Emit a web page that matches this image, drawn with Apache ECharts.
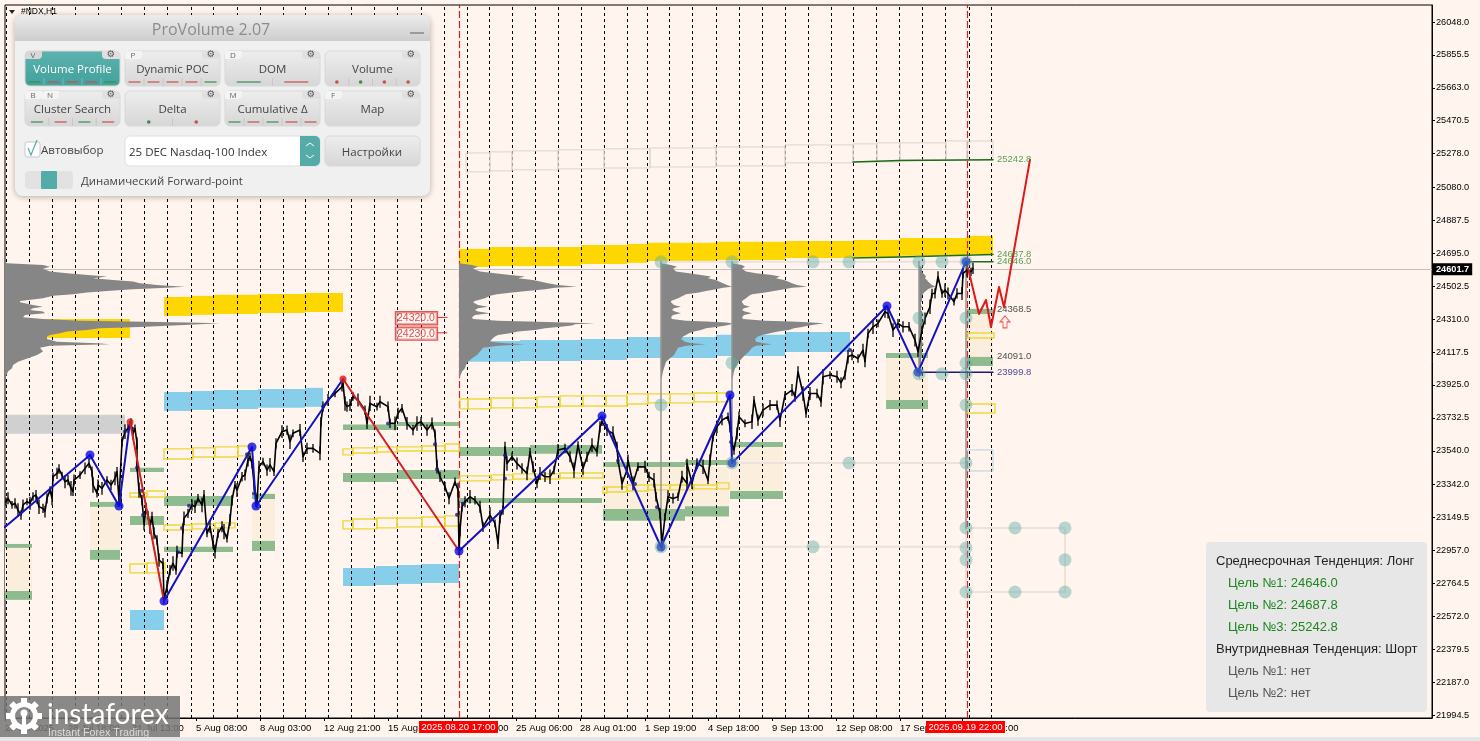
<!DOCTYPE html>
<html><head><meta charset="utf-8">
<style>html,body{margin:0;padding:0;background:#fff5ee;overflow:hidden}#c{width:1480px;height:741px}</style>
<script src="https://cdn.jsdelivr.net/npm/echarts@6/dist/echarts.min.js"></script>
</head><body><div id="c"></div>
<script>
// ---- axes
const yTicks=[26048.0,25855.5,25663.0,25470.5,25278.0,25080.0,24887.5,24695.0,24502.5,24310.0,24117.5,23925.0,23732.5,23540.0,23342.0,23149.5,22957.0,22764.5,22572.0,22379.5,22187.0,21994.5];
const xTickBars=[0,63,127,191,255,319,383,447,511,575,640,703,767,831,895,957];
const xTickLabels=['25 Jul 2025','28 Jul 18:00','31 Jul 13:00','5 Aug 08:00','8 Aug 03:00','12 Aug 21:00','15 Aug 15:00','20 Aug 10:00','25 Aug 06:00','28 Aug 01:00','1 Sep 19:00','4 Sep 18:00','9 Sep 13:00','12 Sep 08:00','17 Sep 03:00','19 Sep 22:00'];
const daySeps=[1,24,47,70,93,116,139,162,186,208,232,255,278,300,323,346,369,392,416,439,462,484,507,530,553,576,599,622,642,664,687,711,734,757,780,803,826,848,871,894,917,940,964,986];
const eventBars=[454,962];
const bidPrice=24601.7;
// ---- price path
const priceBars=[1,3,7,10,13,16,18,22,25,28,31,32,34,38,40,42,45,47,48,52,54,57,60,63,66,68,69,75,80,84,87,88,92,93,97,102,106,110,112,114,116,117,120,123,126,128,130,132,132,134,137,139,141,143,145,147,149,152,154,158,159,162,165,168,171,172,177,178,179,183,187,190,193,197,199,202,205,208,210,213,217,219,222,225,227,230,232,237,240,243,245,247,249,252,254,258,262,265,269,271,277,282,285,288,295,298,302,308,315,316,318,323,330,337,338,340,342,345,348,353,360,362,365,372,375,383,385,390,393,397,402,408,412,416,422,427,430,432,435,440,444,450,453,454,455,457,460,465,470,475,478,485,490,493,495,498,500,502,507,512,517,522,525,528,532,535,540,545,549,553,560,565,569,573,578,582,587,592,595,597,602,608,612,613,617,622,623,628,633,640,644,649,651,655,657,660,663,668,673,677,682,682,687,692,698,703,705,708,712,717,723,725,727,729,732,734,740,747,749,753,758,765,772,775,780,787,790,793,798,801,805,812,816,818,825,832,836,840,843,847,853,858,860,863,868,873,880,883,888,893,898,904,910,913,917,920,925,927,930,933,937,940,943,949,952,957,958,962,966,968];
const priceVals=[23242,23262,23223,23233,23193,23164,23223,23242,23233,23272,23281,23252,23213,23203,23184,23262,23310,23262,23388,23408,23433,23398,23359,23369,23320,23301,23369,23398,23437,23467,23418,23340,23291,23340,23320,23369,23340,23379,23418,23252,23252,23593,23652,23671,23700,23642,23671,23584,23447,23310,23252,23115,23203,23164,23096,23154,23057,23018,22901,22881,22667,22745,22842,22881,22842,22950,22940,23086,23145,23174,23223,23213,23262,23223,23281,23057,23096,22999,22950,23057,23096,23067,23028,23135,23252,23340,23310,23388,23398,23486,23505,23466,23349,23233,23447,23476,23427,23457,23418,23583,23652,23661,23593,23642,23661,23505,23554,23554,23525,23710,23798,23837,23875,23914,23934,23817,23798,23808,23857,23837,23778,23700,23817,23798,23827,23798,23700,23700,23759,23788,23700,23661,23700,23710,23661,23700,23642,23447,23388,23330,23262,23359,23310,22960,23076,23212,23242,23271,23251,23212,23095,23164,23115,22998,23154,23193,23563,23466,23505,23466,23437,23407,23534,23446,23349,23407,23388,23388,23427,23544,23554,23505,23427,23573,23437,23505,23573,23534,23680,23710,23661,23641,23563,23485,23349,23427,23485,23349,23446,23446,23388,23368,23271,23173,22998,23154,23271,23261,23271,23388,23349,23466,23349,23466,23446,23368,23485,23622,23680,23719,23739,23680,23583,23544,23641,23739,23700,23710,23836,23719,23778,23807,23807,23719,23866,23895,23856,24002,23875,23758,23875,23875,23827,23973,23983,23973,23938,23983,24090,24100,24080,24129,24061,24226,24265,24285,24353,24343,24246,24285,24265,24265,24187,24119,24246,24314,24382,24460,24460,24558,24460,24480,24460,24412,24460,24460,24577,24597,24587,24607];
const priceSpans=[50,70,45,60,80,55,65,40,75,50,60,45,85,55,70,60,45,80,50,65,55,40,75,60,85,50,65,45,70,55,60,90,50,65,75,45,60,80,55,40,70,60,85,50,60,75,45,70,55,90,60,80,65,50,85,60,70,55,80,65,50,75,60,85,55,70,45,60,80,55,65,75,50,85,60,45,70,60,80,55,65,90,50,70,60,45,80,55,65,75,50,60,85,55,70,45,65,80,50,60,75,55,85,45,70,60,65,50,80,55,60,70,45,55,40,85,60,70,50,75,55,65,90,45,70,60,55,80,65,50,75,60,85,55,65,70,45,80,60,55,70,50,85,60,75,55,65,80,50,70,60,90,45,65,75,55,60,85,50,70,60,80,45,65,55,75,60,85,50,70,55,65,90,45,75,60,80,55,65,50,70,85,60,45,75,55,65,80,50,70,60,85,55,65,90,45,75,60,50,70,80,55,65,60,85,45,70,55,75,60,50,65,80,55,70,60,45,85,50,65,75,60,55,80,45,70,60,65,85,50,75,55,60,90,45,70,65,55,80,60,50,75,65,55,85,45,70,60,80,50,65,55,75,60,45,70,85,55,60,65,50,80,70,45,60,75,55,85,50,65,60,70,45,80,55,65];
// ---- zigzag
const blueA=[[0,23094],[85,23515],[114,23217],[125,23708]];
const blueB=[[159,22661],[247,23562],[251,23217],[338,23960]];
const blueC=[[454,22954],[597,23743],[656,22977],[725,23866],[727,23468],[882,24387],[913,23999.8],[961,24646]];
const redA=[[125,23708],[159,22661]];
const redB=[[338,23960],[454,22954]];
const forecast=[[963,24609],[974,24340],[981,24422],[986,24264],[994,24498],[999,24381],[1025,25242.8]];
const blueNodes=[[85,23515],[114,23217],[247,23562],[251,23217],[454,22954],[597,23743],[656,22977],[725,23866],[727,23468],[882,24387],[913,23999.8],[961,24646],[159,22661]];
const redNodes=[[125,23708],[338,23960]];
const miniDots=[[120,23652],[132,23442],[136,23306],[138,23165],[177,23088],[173,22946],[184,23219],[242,23519],[249,23291],[318,23798],[383,23700],[430,23578],[432,23432],[452,23166],[458,23232],[500,23514],[500,23378],[613,23482],[630,23345],[652,23209],[726,23591],[845,24129]];
// ---- zones: [barFrom, barTo, priceTop, priceBottom]
const yellowBands=[[454,485,24721,24615],[485,576,24732,24621],[576,622,24744,24633],[622,642,24750,24639],[642,711,24756,24650],[711,780,24762,24656],[780,848,24767,24668],[848,895,24773,24674],[895,962,24785,24680],[962,988,24797,24691],[159,186,24440,24329],[186,209,24446,24335],[209,253,24452,24340],[253,300,24457,24346],[300,338,24463,24352],[40,125,24311,24200]];
const blueBands=[[454,515,24182,24060],[515,576,24188,24065],[576,622,24194,24071],[622,711,24206,24083],[711,780,24218,24095],[780,845,24235,24118],[159,186,23884,23773],[186,209,23890,23779],[209,253,23896,23785],[253,300,23902,23791],[300,318,23908,23797],[338,371,22855,22749],[371,392,22866,22755],[392,416,22872,22761],[416,454,22878,22767],[125,159,22609,22492]];
const greyBands=[[1,120,23750,23639]];
const beigeZones=[[0,27,22972,22720],[85,115,23212,22960],[247,270,23258,23013],[598,724,23445,23180],[725,778,23562,23305],[881,923,24083,23837],[962,988,24340,24089]];
const greenBands=[[0,27,22995,22972],[0,27,22720,22668],[85,115,23241,23212],[85,115,22960,22902],[125,159,23440,23416],[125,159,23159,23106],[159,228,23276,23217],[159,228,22978,22948],[247,270,23288,23258],[247,270,23013,22954],[338,392,23694,23662],[392,454,23709,23685],[338,392,23410,23358],[392,454,23428,23375],[454,525,23562,23510],[525,597,23574,23522],[454,597,23264,23235],[598,680,23475,23445],[680,724,23486,23457],[598,680,23200,23130],[680,724,23215,23155],[725,778,23592,23562],[725,778,23305,23258],[881,923,24112,24083],[881,923,23837,23785],[962,988,24370,24340],[962,988,24089,24036]];
const yellowBoxes=[[159,188,23551,23492],[188,210,23557,23504],[210,233,23563,23504],[233,244,23568,23510],[159,187,23106,23077],[187,210,23112,23083],[210,230,23118,23089],[125,142,23293,23270],[142,160,23305,23270],[125,142,22878,22826],[142,160,22884,22826],[338,348,23551,23516],[348,372,23557,23527],[372,392,23563,23533],[392,417,23563,23539],[417,440,23568,23539],[440,454,23580,23539],[338,348,23130,23083],[348,372,23141,23083],[372,392,23147,23089],[392,417,23147,23095],[417,440,23153,23095],[440,454,23159,23100],[455,463,23843,23785],[463,486,23843,23785],[486,508,23849,23791],[508,532,23849,23791],[532,555,23855,23797],[555,578,23861,23802],[578,601,23861,23802],[601,622,23861,23802],[622,643,23873,23814],[643,665,23873,23820],[665,689,23873,23820],[689,712,23878,23826],[712,724,23878,23826],[455,486,23393,23364],[486,508,23399,23370],[508,555,23405,23375],[555,578,23410,23381],[578,598,23410,23381],[598,602,23328,23293],[602,622,23328,23299],[622,643,23340,23305],[643,665,23340,23311],[665,689,23340,23311],[689,712,23340,23317],[712,724,23352,23317],[962,989,24229,24200],[962,990,23814,23761]];
const greyBoxes=[[461,485,25282,25171],[485,507,25288,25177],[507,553,25294,25183],[553,599,25300,25189],[599,645,25306,25194],[645,711,25311,25200],[711,780,25317,25206],[780,848,25329,25224],[848,872,25335,25229],[872,895,25341,25229],[895,941,25341,25241],[941,962,25352,25241],[962,988,25352,25241]];
const paleBox=[[962,988,23545,23422]];
// ---- level lines
const target3Line=[[848,25229],[895,25238],[988,25242.8]];
const target2Line=[[848,24668],[895,24674],[941,24680],[988,24687.8]];
const target1Line=[[962,24646],[988,24646]];
const stopLine=[[913,23999.8],[988,23999.8]];
const levelLabels=[[992,25242.8,'25242.8','#2e8b2e'],[992,24687.8,'24687.8','#2e8b2e'],[992,24646,'24646.0','#2e8b2e'],[992,24368.5,'24368.5','#222'],[992,24091,'24091.0','#222'],[992,23999.8,'23999.8','#1a1a80']];
const redTags=[[391,24315,'24320.0'],[391,24225,'24230.0']];
const redTagTicks=[[[433,24320],[442,24320]],[[433,24230],[442,24230]]];
// ---- volume profiles
const profileLevels=[24637,24627,24617,24604,24588,24578,24568,24559,24549,24539,24530,24520,24510,24500,24494,24485,24475,24465,24455,24446,24432,24416,24409,24393,24383,24373,24364,24354,24344,24334,24321,24311,24301,24296,24290,24286,24280,24272,24264,24256,24247,24237,24227,24217,24208,24194,24178,24169,24163,24155,24143,24120,24100,24081,24061,24042,24022,24003,23974,23954];
const profileLeft=[2,38,45,38,45,62,83,102,88,108,128,135,152,180,162,128,102,82,68,48,38,15,15,28,38,28,25,38,40,20,18,38,75,125,182,215,195,168,135,95,82,62,55,45,42,42,52,92,105,45,35,38,32,23,13,8,7,3,1,0];
const profile459=[0,13,19,14,21,36,51,66,59,74,81,89,99,118,96,86,68,53,38,31,26,16,14,19,29,19,16,19,31,16,13,14,39,69,106,136,116,113,99,86,76,59,51,39,36,33,31,46,66,39,24,21,18,13,9,7,6,3,1,0];
const profile661=[0,10,16,12,15,28,40,50,47,55,58,62,66,71,62,55,45,38,25,22,17,10,10,13,20,13,11,14,20,12,10,11,25,45,65,71,70,65,55,45,40,33,28,25,22,20,24,30,45,25,17,15,13,9,5,4,3,2,1,0];
const profile732=[0,10,13,10,14,24,40,48,44,52,56,60,65,75,60,52,42,33,20,17,14,10,10,12,18,12,10,13,20,12,10,11,33,60,80,92,85,77,70,62,57,46,38,30,26,23,24,32,40,24,20,17,13,10,7,5,3,2,1,0];
const profile919=[0,0,2,3,3,4,6,7,6,8,9,11,13,17,12,9,7,5,4,3,3,3,2,2,3,2,2,3,4,3,3,3,3,3,4,5,4,4,3,3,3,3,3,3,3,3,3,4,5,3,3,3,3,2,2,2,1,1,1,0];
const profileBars=[0,454,656,727,914];
const profileWidths=[profileLeft,profile459,profile661,profile732,profile919];
// ---- control points
const tealDots=[[656,24645],[727,24645],[808,24645],[844,24645],[914,24645],[937,24645],[961,24645],[656,23808],[727,24054],[656,22978],[808,22978],[844,23469],[727,23469],[914,24317],[914,23990],[937,23990],[961,23990],[961,24317],[961,24054],[961,23808],[961,23469],[961,23089],[961,22972],[961,22902],[961,22714],[1010,23089],[1060,23089],[1060,22902],[1010,22714],[1060,22714]];
const paleLines=[[[656,24645],[961,24645]],[[656,22978],[961,22978]],[[727,23469],[961,23469]],[[961,23089],[1060,23089],[1060,22714],[961,22714],[961,23089]]];
const stemLines=[[[656,24645],[656,22978]],[[727,24645],[727,23469]],[[914,24645],[914,23990]],[[961,24645],[961,23089]]];
const arrowMark=[[1000,24294]];
// ---- panels text
const summaryLines=[['Среднесрочная Тенденция: Лонг','#222',0],['Цель №1: 24646.0','#1f861f',12],['Цель №2: 24687.8','#1f861f',12],['Цель №3: 25242.8','#1f861f',12],['Внутридневная Тенденция: Шорт','#222',0],['Цель №1: нет','#555',12],['Цель №2: нет','#555',12]];
const G='#3c8c50',R='#c8504a';
const buttons=[
 {t:'Volume Profile',k:['V'],gear:1,on:1,m:'l',c:[G,R,R,R,G]},
 {t:'Dynamic POC',k:['P'],gear:1,m:'l',c:[R,R,R,R,G]},
 {t:'DOM',k:['D'],gear:1,m:'l',c:[G,R]},
 {t:'Volume',k:[],gear:1,m:'d',c:[R,G,R,R]},
 {t:'Cluster Search',k:['B','N'],gear:1,m:'l',c:[G,R,G,R]},
 {t:'Delta',k:[],gear:1,m:'d',c:[G,R]},
 {t:'Cumulative Δ',k:['M'],gear:1,m:'l',c:[G,R,G,R,R]},
 {t:'Map',k:['F'],gear:1,m:'',c:[]}];

const zip=(a,b)=>a.map((v,i)=>[v,b[i]]);
const rectSeries=(name,data,style,z)=>({name,type:'custom',z,silent:true,clip:true,data,
 renderItem:(p,api)=>{const a=api.coord([api.value(0),api.value(2)]),b=api.coord([api.value(1),api.value(3)]);
  return {type:'rect',shape:{x:a[0],y:a[1],width:b[0]-a[0],height:b[1]-a[1]},style:style};}});
const line=(name,data,color,width,z)=>({name,type:'line',z,silent:true,data,showSymbol:false,symbol:'none',animation:false,lineStyle:{color,width,cap:'round',join:'round'}});
const dots=(name,data,color,size,z,extra)=>Object.assign({name,type:'scatter',z,silent:true,data,symbolSize:size,itemStyle:{color}},extra||{});

const series=[];
series.push({type:'line',name:'days',z:1,data:[],silent:true,markLine:{silent:true,symbol:'none',label:{show:false},animation:false,
 lineStyle:{color:'#000',type:[3,3],width:1},data:daySeps.map(v=>({xAxis:v}))}});
series.push({type:'line',name:'events',z:2,data:[],silent:true,markLine:{silent:true,symbol:'none',label:{show:false},animation:false,
 lineStyle:{color:'#d02020',type:[7,3],width:1.2},data:eventBars.map(v=>({xAxis:v}))}});
series.push({type:'line',name:'bid',z:2,data:[],silent:true,markLine:{silent:true,symbol:'none',animation:false,
 lineStyle:{color:'#c4c0bd',type:'solid',width:1},
 label:{show:true,position:'end',formatter:bidPrice.toFixed(1),backgroundColor:'#000',color:'#fff',fontFamily:'Liberation Sans',fontSize:9.2,fontWeight:'bold',padding:[2,3,1,3],distance:1},
 data:[{yAxis:bidPrice}]}});
series.push(rectSeries('beige',beigeZones,{fill:'#fbeedd'},3));
series.push(rectSeries('grey',greyBands,{fill:'#d0d0d0'},4));
series.push(rectSeries('yellow',yellowBands,{fill:'#ffd700'},4));
series.push(rectSeries('blue',blueBands,{fill:'#87ceeb'},4));
series.push(rectSeries('green',greenBands,{fill:'#8fbc8f'},4));
series.push(rectSeries('greyBox',greyBoxes,{fill:'none',stroke:'#d8d4d0',lineWidth:1},5));
series.push(rectSeries('paleBox',paleBox,{fill:'none',stroke:'#b5d0dc',lineWidth:1},5));
series.push(rectSeries('yellowBox',yellowBoxes,{fill:'none',stroke:'#efd63a',lineWidth:1.4},5));
paleLines.forEach((d,i)=>series.push(line('pale'+i,d,'#ebe2dc',2,5)));
series.push({name:'profiles',type:'custom',z:6,silent:true,data:profileBars.map((b,i)=>[b,i]),
 renderItem:(p,api)=>{const bar=api.value(0),w=profileWidths[api.value(1)];
  const pts=profileLevels.map((lv,j)=>api.coord([bar+w[j],lv]));
  pts.push(api.coord([bar,profileLevels[profileLevels.length-1]]));pts.push(api.coord([bar,profileLevels[0]]));
  return {type:'polygon',shape:{points:pts},style:{fill:'#868686'}};}});
stemLines.forEach((d,i)=>series.push(line('stem'+i,d,'rgba(150,148,146,0.75)',2,6)));
redTagTicks.forEach((d,i)=>series.push(line('tagtick'+i,d,'#d83030',1,7)));
[target3Line,target2Line,target1Line].forEach((d,i)=>series.push(line('target'+i,d,'#1a6e1a',1.5,7)));
series.push(line('stop',stopLine,'#1a1a70',1.5,7));
series.push(line('price',zip(priceBars,priceVals),'#000',1.6,8));
series.push({name:'wicks',type:'custom',z:8,silent:true,data:priceBars.map((b,i)=>[b,priceVals[i],priceSpans[i]||40]),
 renderItem:(p,api)=>{const b=api.value(0),v=api.value(1),s=api.value(2)/2;const a=api.coord([b,v+s]),c=api.coord([b,v-s]);
  return {type:'line',shape:{x1:a[0],y1:a[1],x2:c[0],y2:c[1]},style:{stroke:'#000',lineWidth:1.3}};}});
series.push(dots('mini',miniDots,'#1a1a80',4,9));
[blueA,blueB,blueC].forEach((d,i)=>series.push(line('zig'+i,d,'#1212c4',2,9)));
[redA,redB].forEach((d,i)=>series.push(line('zigr'+i,d,'#d42020',2,9)));
series.push(line('forecast',forecast,'#e01818',2,10));
series.push(dots('nodes',blueNodes,'#0a0ae0',9,10));
series.push(dots('rnodes',redNodes,'#d81818',7,10));
series.push(dots('teal',tealDots,'rgba(95,170,165,0.55)',13,11));
series.push(dots('arrow',arrowMark,'none',[10,12],11,{symbol:'path://M5 0 L10 5 L7 5 L7 10 L3 10 L3 5 L0 5 Z',itemStyle:{color:'rgba(0,0,0,0)',borderColor:'#e83030',borderWidth:1}}));
series.push({name:'levelLabels',type:'scatter',z:12,silent:true,symbolSize:0,
 data:levelLabels.map(r=>({value:[r[0],r[1]],label:{show:true,position:'right',distance:0,formatter:r[2],color:r[3],fontFamily:'Liberation Sans',fontSize:9.5}}))});
series.push({name:'redTags',type:'scatter',z:12,silent:true,symbolSize:0,
 data:redTags.map(r=>({value:[r[0],r[1]],label:{show:true,position:'right',distance:0,formatter:r[2],color:'#c82828',fontFamily:'Liberation Sans',fontSize:10.5,backgroundColor:'rgba(255,245,238,0.6)',borderColor:'#d83030',borderWidth:1.2,padding:[1,2,0,1]}}))});

// ---- control panel drawn as graphics
const g=[];
const F='"Open Sans"';
const rect=(x,y,w,h,fill,r,extra)=>g.push(Object.assign({type:'rect',z:100,silent:true,shape:{x,y,width:w,height:h,r:r||0},style:{fill}},extra||{}));
const text=(x,y,s,size,fill,align,fam)=>g.push({type:'text',z:101,silent:true,x,y,style:{text:s,fontSize:size,fill,align:align||'left',verticalAlign:'middle',fontFamily:fam||F}});
const vgrad=(a,b)=>({type:'linear',x:0,y:0,x2:0,y2:1,colorStops:[{offset:0,color:a},{offset:1,color:b}]});
const seg=(x1,y1,x2,y2,stroke,w)=>g.push({type:'line',z:101,silent:true,shape:{x1,y1,x2,y2},style:{stroke,lineWidth:w||1}});
rect(15,15,415,181,'#f0f0f0',8,{style:{fill:'#f0f0f0',shadowBlur:6,shadowColor:'rgba(0,0,0,0.3)',shadowOffsetY:1}});
rect(15,15,415,26,vgrad('#ececec','#cdcdcd'),[8,8,0,0]);
text(211,30,'ProVolume 2.07',16,'#8c8c8c','center');
seg(410,33,424,33,'#9a9a9a',2);
const cols=[25,125,225,325],rows=[51,91];
buttons.forEach((b,i)=>{
 const x=cols[i%4],y=rows[i>>2],w=95,h=35;
 const bg=b.on?vgrad('#5cb3ae','#43a09c'):vgrad('#eeeeee','#d6d6d6');
 rect(x,y,w,h,bg,5,{style:{fill:bg,stroke:'#d8d8d8',lineWidth:1}});
 b.k.forEach((k,j)=>{rect(x+j*17,y,17,8,b.on?'#d8d8d8':'#f4f4f4',[4,0,4,0]);text(x+8+j*17,y+5,k,8,'#666','center');});
 if(b.gear){rect(x+w-18,y,18,8,'#e0e0e0',[0,4,0,4]);text(x+w-9,y+4,'⚙',9.5,'#555','center','DejaVu Sans');}
 text(x+w/2,y+18.5,b.t,11.5,b.on?'#fff':'#444','center');
 const n=b.c.length;
 b.c.forEach((c,j)=>{const cw=w/n,cx=x+cw*j+cw/2,cy=y+31;
  if(j>0)seg(x+cw*j,y+27,x+cw*j,y+35,b.on?'#6abdb8':'#c8c8c8',1);
  if(b.m==='l')seg(cx-(n===2?12:6),cy,cx+(n===2?12:6),cy,c,1.2);
  else g.push({type:'circle',z:101,silent:true,shape:{cx,cy,r:1.8},style:{fill:c}});
 });
});
rect(25,142,15,15,'#fff',2,{style:{fill:'#fff',stroke:'#c8c8c8',lineWidth:1}});
g.push({type:'polyline',z:102,silent:true,shape:{points:[[28,148],[31,155],[37,140]]},style:{stroke:'#55aaa5',lineWidth:1.2,fill:'none'}});
text(41,150.5,'Автовыбор',11.5,'#444');
rect(125,136,195,30,'#fff',5,{style:{fill:'#fff',stroke:'#e0e0e0',lineWidth:1}});
text(129,152.5,'25 DEC Nasdaq-100 Index',11.5,'#333');
rect(300,136,20,30,'#55aba7',[0,5,5,0]);
g.push({type:'polyline',z:102,silent:true,shape:{points:[[306,146],[310,143],[314,146]]},style:{stroke:'#fff',lineWidth:1,fill:'none'}});
g.push({type:'polyline',z:102,silent:true,shape:{points:[[306,155],[310,158],[314,155]]},style:{stroke:'#fff',lineWidth:1,fill:'none'}});
const bgBtn=vgrad('#eeeeee','#d6d6d6');
rect(325,136,95,30,bgBtn,5,{style:{fill:bgBtn,stroke:'#d8d8d8',lineWidth:1}});
text(372,152.5,'Настройки',11.5,'#444','center');
rect(25,171,48,18,'#e2e2e2',4);
rect(41,171,16,18,'#55aba7',1);
text(81,181.5,'Динамический Forward-point',11.4,'#444');
text(21,12,'#NDX,H1',8.5,'#000','left','Liberation Sans');
g.push({type:'polygon',z:101,silent:true,shape:{points:[[9,10],[15,10],[12,14]]},style:{fill:'#222'}});
// summary box
rect(1206,542,221,170,'#e7e7e7',4);
summaryLines.forEach((l,i)=>text(1216+l[2],561+i*22,l[0],13,l[1],'left','Liberation Sans'));
// time flags
[[419,'2025.08.20 17:00'],[926,'2025.09.19 22:00']].forEach(f=>{rect(f[0],721,79,12,'#f00');text(f[0]+39.5,727.5,f[1],9.5,'#fff','center','Liberation Sans');});
// watermark
rect(0,696,180,45,'rgba(118,118,118,0.85)');
const gearCx=24,gearCy=716;
[0,45,90,135,180,225,270,315].forEach(d=>g.push({type:'rect',z:101,silent:true,x:gearCx,y:gearCy,rotation:d*Math.PI/180,shape:{x:-3,y:-18,width:6,height:7},style:{fill:'#fff'}}));
g.push({type:'ring',z:101,silent:true,shape:{cx:gearCx,cy:gearCy,r:14,r0:9},style:{fill:'#fff'}});
g.push({type:'circle',z:101,silent:true,shape:{cx:gearCx,cy:gearCy-3,r:3.5},style:{fill:'#fff'}});
rect(gearCx-2,gearCy-3,4,14,'#fff');
g[g.length-1].z=101;
text(47,715,'instaforex',28,'#fff','left','Lato');
text(48,733,'Instant Forex Trading',10.7,'#dcdcdc','left','Liberation Sans');
// window edge
rect(0,737,1480,4,'#e6e6e6');

const chart=echarts.init(document.getElementById('c'),null,{renderer:'canvas',width:1480,height:741});
chart.setOption({animation:false,backgroundColor:'#fff5ee',
 grid:{left:5,right:48,top:5,height:713,show:true,borderColor:'#000',borderWidth:1,backgroundColor:'transparent'},
 xAxis:{type:'value',min:0,max:1427,splitLine:{show:false},
  axisLine:{show:true,onZero:false,lineStyle:{color:'#000'}},
  axisTick:{show:true,length:3,lineStyle:{color:'#000'},customValues:xTickBars},
  axisLabel:{show:true,customValues:xTickBars,align:'left',margin:5,color:'#000',fontFamily:'Liberation Sans',fontSize:9.5,
   formatter:v=>xTickLabels[xTickBars.indexOf(v)]||''}},
 yAxis:{type:'value',position:'right',min:21977,max:26147.3,splitLine:{show:false},
  axisLine:{show:true,onZero:false,lineStyle:{color:'#000'}},
  axisTick:{show:true,length:3,lineStyle:{color:'#000'},customValues:yTicks},
  axisLabel:{show:true,customValues:yTicks,margin:4,color:'#000',fontFamily:'Liberation Sans',fontSize:9.2,formatter:v=>v.toFixed(1)}},
 series,graphic:{elements:g}});
</script></body></html>
